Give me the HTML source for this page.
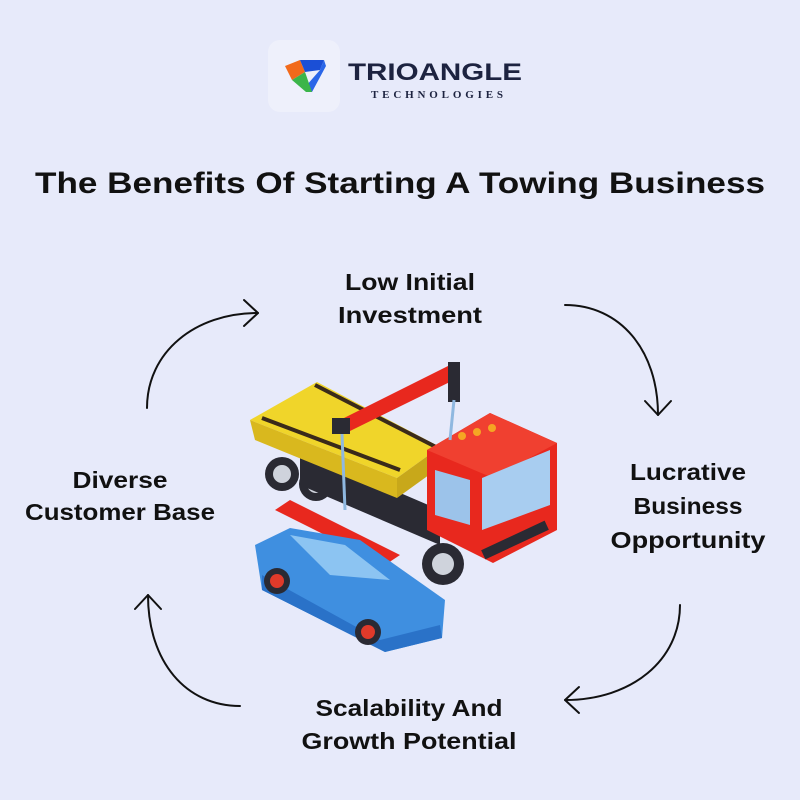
<!DOCTYPE html>
<html><head><meta charset="utf-8"><style>
html,body{margin:0;padding:0;background:#e7eafa;}
svg{display:block}
text{font-family:"Liberation Sans",Arial,sans-serif;font-weight:bold;fill:#111;}
</style></head><body>
<svg width="800" height="800" viewBox="0 0 800 800" xmlns="http://www.w3.org/2000/svg">
<rect width="800" height="800" fill="#e7eafa"/>
<!-- logo -->
<rect x="268" y="40" width="72" height="72" rx="12" fill="#eef0fb"/>
<polygon points="285,66 300,60 305,72 292,80" fill="#f26a1b"/>
<polygon points="300,60 324,60 320,70 305,72" fill="#1b4fd6"/>
<polygon points="320,70 324,60 326,66 312,92 306,86" fill="#2a66e8"/>
<polygon points="292,80 305,72 312,92 306,92" fill="#3bb54a"/>
<text x="348" y="80" font-size="24" style="fill:#1d2340" textLength="174" lengthAdjust="spacingAndGlyphs">TRIOANGLE</text>
<text x="371" y="98" font-size="11" style="fill:#1d2340;font-family:'Liberation Serif',serif" textLength="132" lengthAdjust="spacing">TECHNOLOGIES</text>
<!-- title -->
<text x="400" y="193" font-size="30" text-anchor="middle" textLength="730" lengthAdjust="spacingAndGlyphs">The Benefits Of Starting A Towing Business</text>
<!-- labels -->
<g font-size="23" text-anchor="middle">
<text x="410" y="290" textLength="130" lengthAdjust="spacingAndGlyphs">Low Initial</text>
<text x="410" y="323" textLength="144" lengthAdjust="spacingAndGlyphs">Investment</text>
<text x="688" y="480" textLength="116" lengthAdjust="spacingAndGlyphs">Lucrative</text>
<text x="688" y="514" textLength="109" lengthAdjust="spacingAndGlyphs">Business</text>
<text x="688" y="548" textLength="155" lengthAdjust="spacingAndGlyphs">Opportunity</text>
<text x="120" y="488" textLength="95" lengthAdjust="spacingAndGlyphs">Diverse</text>
<text x="120" y="520" textLength="190" lengthAdjust="spacingAndGlyphs">Customer Base</text>
<text x="409" y="716" textLength="187" lengthAdjust="spacingAndGlyphs">Scalability And</text>
<text x="409" y="749" textLength="215" lengthAdjust="spacingAndGlyphs">Growth Potential</text>
</g>
<!-- arrows -->
<g fill="none" stroke="#111" stroke-width="2" stroke-linecap="round" stroke-linejoin="round">
<path d="M147,408 C147,352 195,313 258,313"/><path d="M244,300 L258,313 L244,326"/>
<path d="M565,305 C620,305 658,350 658,415"/><path d="M645,401 L658,415 L671,401"/>
<path d="M680,605 C680,660 632,700 565,700"/><path d="M579,687 L565,700 L579,713"/>
<path d="M240,706 C186,706 148,662 148,595"/><path d="M135,609 L148,595 L161,609"/>
</g>
<!-- truck -->
<g>
<circle cx="282" cy="474" r="17" fill="#2a2a33"/><circle cx="282" cy="474" r="9" fill="#cfd3dc"/>
<circle cx="316" cy="484" r="17" fill="#2a2a33"/><circle cx="316" cy="484" r="9" fill="#cfd3dc"/>
<polygon points="300,450 440,510 440,545 300,485" fill="#2a2a33"/>
<polygon points="250,420 317,382 440,447 397,478" fill="#f0d52a"/>
<polygon points="250,420 397,478 397,498 255,440" fill="#d9b81e"/>
<polygon points="397,478 440,447 440,467 397,498" fill="#c8a81a"/>
<line x1="262" y1="418" x2="400" y2="470" stroke="#3a2a1a" stroke-width="4"/>
<line x1="315" y1="385" x2="436" y2="447" stroke="#3a2a1a" stroke-width="4"/>
<polygon points="427,450 490,413 557,443 557,530 493,563 427,530" fill="#e8281e"/>
<polygon points="427,450 490,413 557,443 493,478" fill="#f04030"/>
<polygon points="482,478 550,450 550,505 482,530" fill="#a8cdf0"/>
<polygon points="435,470 470,480 470,525 435,515" fill="#9cc3ea"/>
<rect x="480" y="535" width="70" height="10" fill="#2a2a33" transform="rotate(-25 515 540)"/>
<circle cx="462" cy="436" r="4" fill="#f5a623"/><circle cx="477" cy="432" r="4" fill="#f5a623"/><circle cx="492" cy="428" r="4" fill="#f5a623"/>
<circle cx="443" cy="564" r="21" fill="#2a2a33"/><circle cx="443" cy="564" r="11" fill="#cfd3dc"/>
<polygon points="340,420 450,365 458,378 348,432" fill="#e8281e"/>
<rect x="448" y="362" width="12" height="40" fill="#2a2a33"/>
<rect x="332" y="418" width="18" height="16" fill="#2a2a33"/>
<line x1="342" y1="434" x2="345" y2="510" stroke="#8fb8e0" stroke-width="3"/>
<line x1="454" y1="400" x2="450" y2="440" stroke="#8fb8e0" stroke-width="3"/>
<polygon points="275,510 290,500 400,555 385,565" fill="#e8281e"/>
<polygon points="255,545 290,528 360,540 445,600 442,638 385,652 262,590" fill="#3f8fe0"/>
<polygon points="290,535 345,545 390,580 330,575" fill="#8cc4f2"/>
<polygon points="262,590 385,652 442,638 440,625 380,640 262,575" fill="#2a72c8"/>
<circle cx="277" cy="581" r="13" fill="#2a2a33"/><circle cx="277" cy="581" r="7" fill="#e03a2a"/>
<circle cx="368" cy="632" r="13" fill="#2a2a33"/><circle cx="368" cy="632" r="7" fill="#e03a2a"/>
</g>
</svg>
</body></html>
